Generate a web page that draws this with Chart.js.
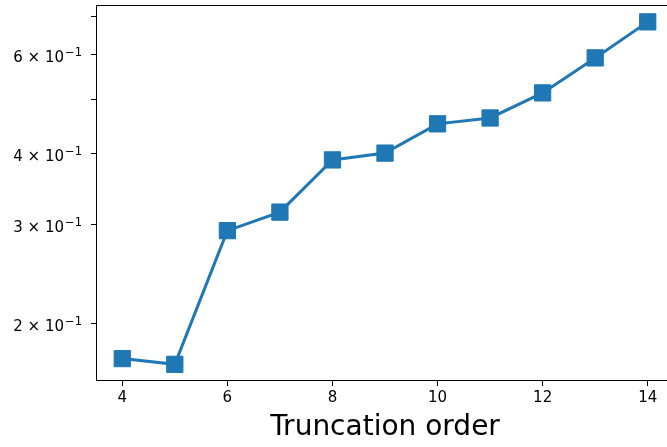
<!DOCTYPE html>
<html lang="en">
<head>
  <meta charset="UTF-8" />
  <title>Truncation order</title>
  <script src="https://cdn.jsdelivr.net/npm/chart.js@4.4.1/dist/chart.umd.min.js"></script>
  <style>
    html, body { margin: 0; padding: 0; background: #fff; overflow: hidden; }
    #wrap { width: 680px; height: 447px; }
  </style>
</head>
<body>
  <div id="wrap"><canvas id="chart" width="680" height="447"></canvas></div>
  <script>
    // values
    const truncationOrders = [4, 5, 6, 7, 8, 9, 10, 11, 12, 13, 14]
    const errorValues = [0.173, 0.169, 0.292, 0.315, 0.390, 0.401, 0.452, 0.463, 0.513, 0.592, 0.686]
    const xTickValues = [4, 6, 8, 10, 12, 14]
    const yTickValues = [0.2, 0.3, 0.4, 0.5, 0.6, 0.7]
    const yTickMantissas = ['2', '3', '4', '', '6', '']
    const yTickExponent = '−1'

    const blue = '#1f77b4'
    const font = 'DejaVu Sans'

    // matplotlib style frame + the "m × 10^-1" tick labels
    const frame = {
      id: 'frame',
      afterDraw(chart) {
        const { ctx, chartArea: a } = chart
        const y = chart.scales.y
        ctx.save()
        ctx.strokeStyle = '#000'
        ctx.lineWidth = 1
        ctx.strokeRect(a.left + 0.5, a.top + 0.5, a.right - a.left, a.bottom - a.top)

        ctx.fillStyle = '#000'
        ctx.textBaseline = 'alphabetic'
        ctx.textAlign = 'right'
        yTickValues.forEach((v, i) => {
          const m = yTickMantissas[i]
          if (!m) return
          const py = y.getPixelForValue(v)
          const right = 82
          ctx.font = `11.5px "${font}"`
          const expW = ctx.measureText(yTickExponent).width
          ctx.fillText(yTickExponent, right, py + 1.5)
          ctx.font = `15px "${font}"`
          ctx.fillText(`${m} × 10`, right - expW - 1, py + 7.5)
        })
        ctx.restore()
      },
    }

    new Chart(document.getElementById('chart'), {
      type: 'line',
      data: {
        datasets: [{
          data: truncationOrders.map((x, i) => ({ x, y: errorValues[i] })),
          borderColor: blue,
          backgroundColor: blue,
          borderWidth: 3,
          pointStyle: 'rect',
          pointRadius: 11.5,
          pointBorderWidth: 1,
          pointBackgroundColor: blue,
          pointBorderColor: blue,
          tension: 0,
        }],
      },
      options: {
        responsive: false,
        animation: false,
        events: [],
        layout: { autoPadding: false, padding: { top: 5, right: 6, left: 0, bottom: 0 } },
        plugins: { legend: { display: false }, tooltip: { enabled: false } },
        scales: {
          x: {
            type: 'linear',
            min: 3.5,
            max: 14.5,
            afterBuildTicks: (s) => { s.ticks = xTickValues.map((v) => ({ value: v })) },
            afterFit: (s) => {
              s.height = 67
              s.paddingLeft = 0
              s.paddingRight = 0
            },
            grid: { display: true, drawOnChartArea: false, tickLength: 6, tickColor: '#000', tickWidth: 1 },
            border: { display: true, color: '#000', width: 1 },
            ticks: { color: '#000', font: { family: font, size: 15 }, padding: 3.5, maxRotation: 0 },
            title: {
              display: true,
              text: 'Truncation order',
              color: '#000',
              font: { family: font, size: 28, lineHeight: 1 },
              padding: { top: 0, bottom: 5 },
            },
          },
          y: {
            type: 'logarithmic',
            min: 0.1585,
            max: 0.735,
            afterBuildTicks: (s) => { s.ticks = yTickValues.map((v) => ({ value: v })) },
            afterFit: (s) => {
              s.width = 96
              s.paddingTop = 0
              s.paddingBottom = 0
            },
            grid: { display: true, drawOnChartArea: false, tickLength: 5, tickColor: '#000', tickWidth: 1 },
            border: { display: true, color: '#000', width: 1 },
            ticks: { display: true, autoSkip: false, callback: () => '' },
          },
        },
      },
      plugins: [frame],
    })
  </script>
</body>
</html>
